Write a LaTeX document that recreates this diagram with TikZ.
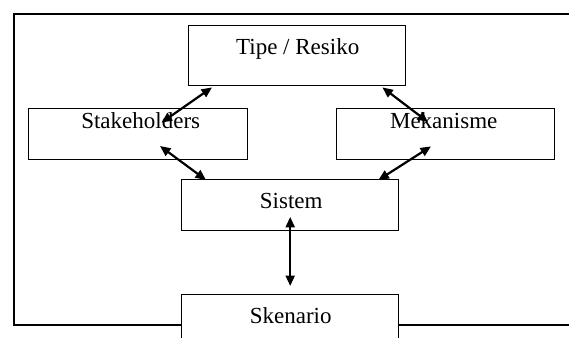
\documentclass[tikz,border=0pt]{standalone}
\usepackage{fontspec}
\setmainfont{Liberation Serif}
\usetikzlibrary{arrows.meta,calc}
\begin{document}
\begin{tikzpicture}[x=1pt,y=-1pt,
  box/.style={draw,line width=1.4pt,minimum width=217pt,minimum height=51pt,inner sep=0pt,anchor=north west},
  lbl/.style={font=\fontsize{23}{27}\selectfont,anchor=base,inner sep=0pt},
  frame/.style={line width=1.4pt},
  arr/.style={{Triangle[length=10.5pt,width=9pt]}-{Triangle[length=10.5pt,width=9pt]},line width=2.2pt}]
\useasboundingbox (0,0) rectangle (569,337);
\clip (0,0) rectangle (569,337);

% boxes
\node[box,minimum height=60pt] (tipe) at (188,25) {};
\node[box,minimum width=219pt] (stake) at (28,108) {};
\node[box,minimum width=218pt] (meka) at (336,108) {};
\node[box] (sistem) at (181,179) {};
\node[box,minimum height=60pt] (sken) at (181,293.5) {};

% labels
\node[lbl] (tipeT) at ($(tipe.north)+(0.5,29)$) {Tipe / Resiko};
\node[lbl] (stakeT) at ($(stake.north)+(2.5,20)$) {Stakeholders};
\node[lbl] (mekaT) at ($(meka.north)+(-2,20)$) {Mekanisme};
\node[lbl] (sistemT) at ($(sistem.north)+(1,29.5)$) {Sistem};
\node[lbl] (skenT) at ($(sken.north)+(0.5,30)$) {Skenario};

% outer frame, open to the right
\coordinate (ftl) at (14,14);
\coordinate (fbl) at (14,325);
\coordinate (ftr) at (580,14);
\coordinate (fbr) at (580,325);
\draw[frame] (ftr) -- (ftl) -- (fbl) -- (fbl -| sken.west);
\draw[frame] (sken.east |- fbr) -- (fbr);

% connectors
\draw[arr] ($(tipe.south west)+(24,1)$) -- ($(stake.north west)+(133.5,14.6)$);
\draw[arr] ($(tipe.south east)+(-24,1)$) -- ($(meka.north west)+(92,14)$);
\draw[arr] ($(stake.south west)+(132,-14.4)$) -- ($(sistem.north west)+(25,1)$);
\draw[arr] ($(meka.south west)+(95,-14)$) -- ($(sistem.north east)+(-21,1)$);
\draw[arr] ($(sistem.south)+(0,-14.5)$) -- ($(sken.north)+(0,-7.5)$);
\end{tikzpicture}
\end{document}
